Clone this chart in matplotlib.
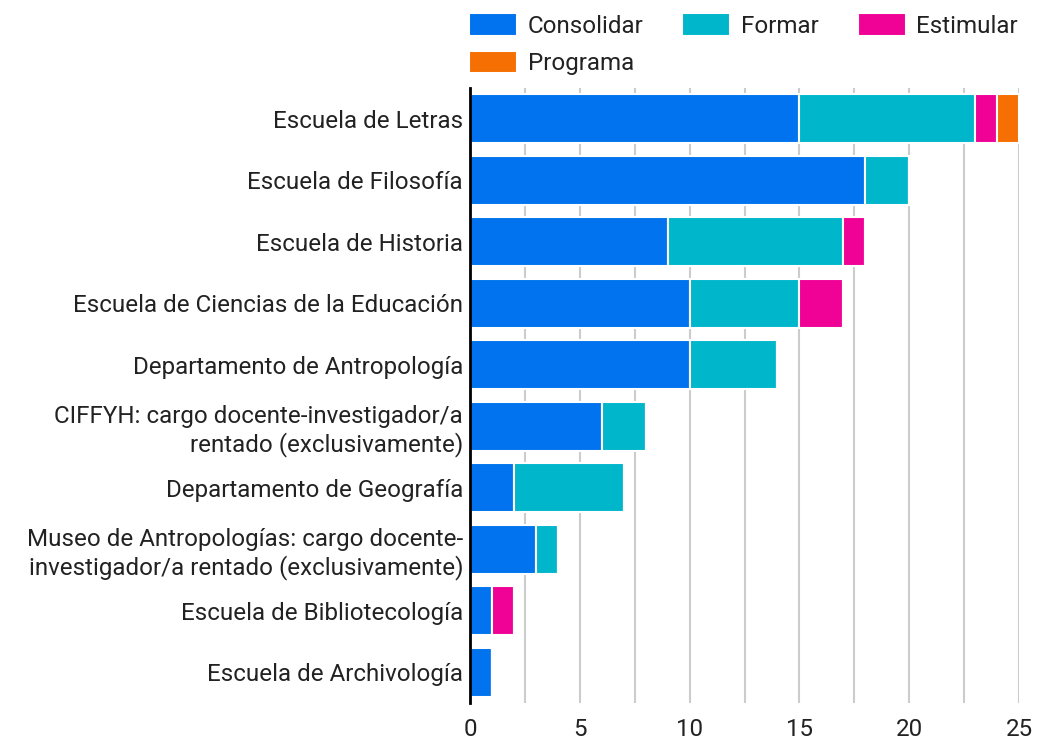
import matplotlib
matplotlib.use("Agg")
import matplotlib.pyplot as plt
import numpy as np

plt.rcParams['font.family'] = ['Roboto', 'DejaVu Sans']

categories = [
    "Escuela de Letras",
    "Escuela de Filosofía",
    "Escuela de Historia",
    "Escuela de Ciencias de la Educación",
    "Departamento de Antropología",
    "CIFFYH: cargo docente-investigador/a\nrentado (exclusivamente)",
    "Departamento de Geografía",
    "Museo de Antropologías: cargo docente-\ninvestigador/a rentado (exclusivamente)",
    "Escuela de Bibliotecología",
    "Escuela de Archivología",
]
series_names = ["Consolidar", "Formar", "Estimular", "Programa"]
consolidar = [15, 18, 9, 10, 10, 6, 2, 3, 1, 1]
formar     = [8, 2, 8, 5, 4, 2, 5, 1, 0, 0]
estimular  = [1, 0, 1, 2, 0, 0, 0, 0, 1, 0]
programa   = [1, 0, 0, 0, 0, 0, 0, 0, 0, 0]
colors = ["#0173EE", "#00B6CB", "#F00297", "#F56F02"]
xticks = [0, 5, 10, 15, 20, 25]

FS = 17.4
LFS = 17.4

fig = plt.figure(figsize=(10.55, 7.4), dpi=100)
ax = fig.add_axes([470/1055, 1 - 703/740, (1019 - 470)/1055, (703 - 88)/740])

y = np.arange(len(categories))
left = np.zeros(len(categories))
handles = []
for name, vals, c in zip(series_names, [consolidar, formar, estimular, programa], colors):
    vals = np.array(vals, dtype=float)
    h = ax.barh(y, vals, left=left, height=0.8, color=c, edgecolor="white",
                linewidth=1.5, label=name, zorder=2)
    handles.append(h)
    left += vals

ax.set_ylim(len(categories) - 0.5, -0.5)
ax.set_xlim(0, 25)
ax.set_yticks(y)
ax.set_yticklabels(categories, fontsize=FS, color="#222222", ha="right")
ax.set_xticks(xticks)
ax.set_xticklabels([str(t) for t in xticks], fontsize=FS, color="#222222")
ax.set_xticks(np.arange(0, 25.01, 2.5), minor=True)
ax.grid(axis="x", which="both", color="#CCCCCC", linewidth=1.5, zorder=0)
ax.set_axisbelow(True)
ax.tick_params(axis="both", which="both", length=0)
ax.tick_params(axis="y", pad=5)
ax.tick_params(axis="x", pad=11)
for s in ["top", "right", "bottom"]:
    ax.spines[s].set_visible(False)
ax.spines["left"].set_linewidth(2)
ax.spines["left"].set_color("#000000")
ax.spines["left"].set_zorder(5)

# order so that column-wise fill gives row-wise reading
order = [0, 3, 1, 2]
fig.legend(handles=[handles[i] for i in order],
           labels=[series_names[i] for i in order], ncol=3, loc="upper left",
           bbox_to_anchor=(469/1055, 1 - 13/740), frameon=False, fontsize=LFS,
           handlelength=1.98, handleheight=1.06, handletextpad=0.45,
           columnspacing=1.61, labelspacing=0.55, borderaxespad=0, borderpad=0,
           labelcolor="#222222")

fig.savefig("out.png", dpi=100)
